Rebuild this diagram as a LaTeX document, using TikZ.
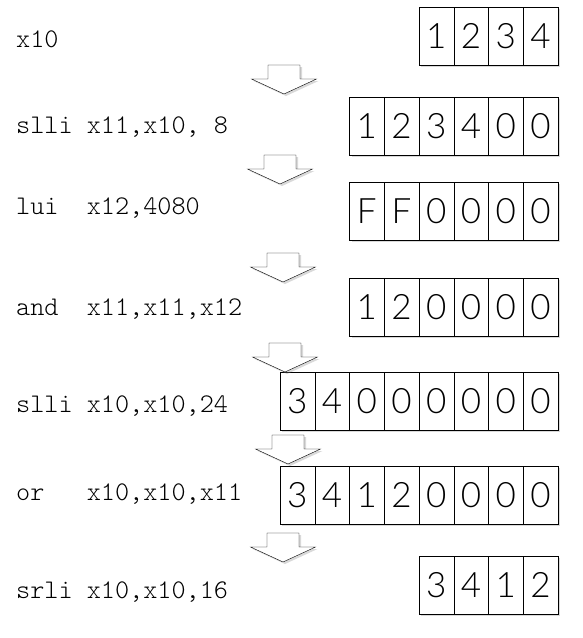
\documentclass[tikz,border=0pt]{standalone}
\usepackage{fontspec}
\setmonofont{Latin Modern Mono Light}
\newfontfamily\cellfont{Lato Light}
\usetikzlibrary{shadows}

\begin{document}
\begin{tikzpicture}[x=1pt, y=-1pt,
    cell/.style={draw, fill=white, minimum width=34.75pt, minimum height=58pt,
      inner sep=0pt, font=\cellfont\fontsize{35}{35}\selectfont,
      drop shadow={shadow xshift=2pt, shadow yshift=-2pt, opacity=0.3}},
    code/.style={anchor=base west, inner sep=0pt,
      font=\ttfamily\fontsize{26.9}{30}\selectfont},
    blockarrow/.style={draw, fill=white, line join=miter,
      drop shadow={shadow xshift=2pt, shadow yshift=-2pt, opacity=0.3}}]
    % --- 定义坐标和参数 ---
    \def\rightX{558}     % 寄存器右端
    \def\cellW{34.75}    % 每一格的宽度
    \useasboundingbox (0, 0) rectangle (583, 638);

    % --- 绘制指令 ---
    \node[code] (code1) at (16, 47)  {x10};
    \node[code] (code2) at (16, 133) {slli x11,x10, 8};
    \node[code] (code3) at (16, 214) {lui\ \ x12,4080};
    \node[code] (code4) at (16, 315) {and\ \ x11,x11,x12};
    \node[code] (code5) at (16, 412) {slli x10,x10,24};
    \node[code] (code6) at (16, 500) {or\ \ \ x10,x10,x11};
    \node[code] (code7) at (16, 598) {srli x10,x10,16};

    % --- 绘制寄存器内容 (右对齐) ---
    \foreach \rw/\n/\yc/\vals in {a/4/36/{1,2,3,4}, b/6/126/{1,2,3,4,0,0},
        c/6/211/{F,F,0,0,0,0}, d/6/307/{1,2,0,0,0,0},
        e/8/401/{3,4,0,0,0,0,0,0}, f/8/495/{3,4,1,2,0,0,0,0},
        g/4/585/{3,4,1,2}} {
      \foreach \v [count=\i] in \vals {
        \node[cell] (\rw-\i) at ({\rightX-(\n-\i+0.5)*\cellW}, \yc) {\v};
      }
    }

    % --- 绘制向下的空心箭头 ---
    % 参数: 中心 x, 顶端 y
    \def\downblock(#1,#2){%
      \draw[blockarrow] (#1-16, #2) -- (#1+16, #2) -- (#1+16, #2+14)
        -- (#1+32.5, #2+14) -- (#1, #2+29) -- (#1-32.5, #2+14)
        -- (#1-16, #2+14) -- cycle;}
    \downblock(284,65)
    \downblock(280,155)
    \downblock(283,253)
    \downblock(285,343)
    \downblock(288,435)
    \downblock(283,533)

\end{tikzpicture}
\end{document}
